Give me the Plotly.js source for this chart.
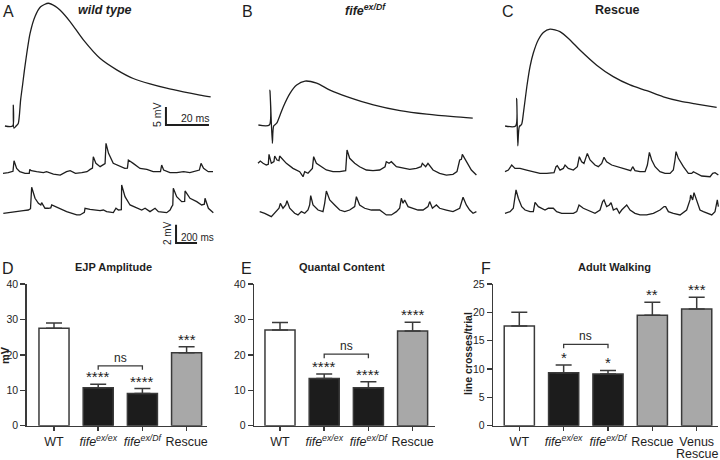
<!DOCTYPE html>
<html><head><meta charset="utf-8">
<script src="https://cdn.plot.ly/plotly-3.0.1.min.js"></script>
<style>html,body{margin:0;padding:0;background:#fff}#chart{width:720px;height:460px}</style>
</head><body><div id="chart"></div>
<script>
// ---------------- DATA ----------------
// Evoked EJP traces (time in ms from stimulus, voltage in mV above baseline)
const ejpWT_t = [-3.9,-0.3,0,0.3,1.3,2.3,3.4,4.4,5.4,7.8,10.1,12.7,16.3,19.4,21.7,26.4,32.6,40.3,48.1,55.8,63.6,71.3,79.1,86.8,91.8];
const ejpWT_v = [0,0,5.8,-0.6,0,0.7,7.2,11.8,16.5,25.7,30.4,33.1,34.1,33.3,32.2,29.0,23.9,18.8,15.6,13.2,11.7,10.5,9.5,8.6,8.1];
const ejpDf_t = [-5.4,-0.3,0,1.1,1.7,3.1,4.7,6.2,9.3,12.4,16.3,21.7,27.9,35.7,48.1,60.5,72.9,85.3,94.3];
const ejpDf_v = [0,0,9.7,-5.1,-0.3,0.5,2.8,5.1,8.8,11.1,12.2,11.6,9.7,7.9,5.6,4.0,3.0,2.3,1.9];
const ejpRes_t = [-5.4,-0.5,0,0.5,1.2,2.3,3.1,4.7,6.2,7.7,10.0,12.4,15.5,20.1,24.8,29.4,37.2,44.9,52.7,60.5,68.2,76.0,83.7,93.0];
const ejpRes_v = [0,0,7.7,-5.5,-0.2,0.5,3.5,10.9,16.5,20.2,23.9,26.0,26.9,26.2,23.9,21.1,16.9,13.7,11.4,9.8,8.1,6.9,6.1,5.2];

// Spontaneous mEJP recordings (time in ms, voltage in mV)
const miniWT1_t = [0,50,95,105,130,160,210,250,255,270,320,385,415,480,545,605,640,690,750,800,830,852,860,885,925,972,981,1005,1050,1115,1160,1185,1194,1240,1305,1370,1430,1500,1511,1530,1590,1655,1720,1780,1870,1886,1910,1955,2000];
const miniWT1_v = [-0.07,0,0.15,1.31,0.47,0.11,-0.07,-0.07,0.36,0.22,0.11,0,0.11,-0.15,-0.26,0.11,0.22,-0.07,0,0.11,0.36,0.5,1.75,1.02,0.66,1.0,3.21,2.11,1.02,0.66,0.47,0.5,1.38,1.02,0.47,0.36,0.11,0.11,0.84,0.29,0,0,0.11,0,0.29,1.02,0.47,0.11,0.11];
const miniWT2_t = [3,67,130,194,241,262,273,305,337,360,368,400,432,455,464,511,606,702,733,775,781,829,924,956,987,1051,1076,1099,1121,1127,1130,1162,1210,1273,1321,1353,1400,1448,1480,1559,1591,1607,1617,1622,1654,1702,1730,1734,1781,1845,1892,1918,1924,1956,2003];
const miniWT2_v = [0,0.07,0.18,0.29,0.36,0.5,2.84,1.64,1.09,0.9,1.17,0.55,0.55,0.6,0.91,0.66,0.18,-0.18,-0.18,0.1,0.55,0.44,0.29,0.36,0.18,0.07,0.55,0.36,0.36,0.4,3.10,1.82,0.91,0.55,0.36,0.55,0.18,0.55,0.18,0.07,0.36,0.73,0.9,2.73,1.82,1.28,1.3,2.44,1.64,1.28,0.91,1.0,1.64,0.55,0.07];
const miniDf1_t = [0,22,48,79,98,105,127,152,159,181,200,206,270,333,397,429,445,476,518,530,556,603,651,714,778,835,848,873,921,968,1032,1095,1159,1210,1222,1248,1270,1318,1381,1445,1508,1553,1565,1597,1619,1667,1730,1794,1857,1895,1921,1937,1946,1984,2032,2080];
const miniDf1_v = [0.73,0.98,0.73,0.55,0.62,1.71,0.73,0.91,1.53,1.09,1.02,1.53,0.73,0.18,-0.18,-0.73,-0.18,-0.36,0.18,1.46,0.73,0.36,0,-0.18,-0.18,-0.07,2.19,1.28,0.73,0.36,0,-0.07,0,0.36,0.91,0.73,0.91,0.36,0.18,0.07,0.18,0.36,0.73,0.36,0.73,0,-0.36,-0.55,-0.47,-0.18,1.09,1.17,1.71,0.91,0,-0.55];
const miniDf2_t = [16,64,127,159,200,213,238,264,276,302,349,381,413,445,476,492,502,524,572,619,635,651,683,730,778,826,873,921,937,968,1016,1080,1159,1222,1270,1318,1349,1365,1381,1397,1429,1476,1524,1572,1619,1635,1661,1699,1730,1794,1857,1921,1937,1953,1984,2016,2048,2080];
const miniDf2_v = [0.18,0,-0.36,0,0.55,1.09,0.55,0.91,1.38,0.55,0,-0.18,0.18,0,0.36,0.91,1.93,0.91,0.36,0.18,1.09,2.44,1.46,0.91,0.36,0.18,0.36,0.73,1.82,0.91,0.55,0.36,0.36,-0.18,-0.18,0.18,0.55,1.64,1.09,1.46,0.73,0.55,0.36,0.36,0.73,1.28,0.55,0.91,0.55,0.36,0.18,0.55,1.09,1.75,0.91,0.36,0,0.18];
const miniRes1_t = [0,32,54,64,95,143,206,270,333,397,467,486,498,524,556,572,603,651,689,708,730,752,772,784,810,857,889,921,943,968,1016,1064,1111,1159,1197,1216,1238,1286,1334,1356,1375,1397,1429,1476,1524,1572,1603,1619,1629,1651,1699,1746,1778,1794,1826,1873,1953,1978,2000,2032];
const miniRes1_v = [0,0.18,0.55,0.73,0.36,0.36,0.18,0,-0.18,-0.18,-0.11,0.55,0.66,0.18,0.36,0.73,0.36,0.18,0.55,1.64,1.09,0.91,1.46,2.0,1.28,0.73,0.55,0.91,1.57,1.09,0.73,0.55,0.36,0.18,0.11,0.55,0.11,0,0,0.73,2.11,1.28,0.55,0,-0.18,-0.18,0.18,1.28,2.19,1.46,0.55,-0.18,-0.18,0,-0.18,-0.47,-0.55,-0.18,-0.11,-0.36];
const miniRes2_t = [0,48,79,95,105,127,159,191,238,270,286,318,349,381,413,460,492,540,587,651,683,705,746,810,857,905,930,943,968,994,1010,1032,1064,1089,1111,1159,1191,1238,1286,1349,1413,1476,1515,1530,1556,1603,1667,1730,1762,1768,1787,1800,1826,1857,1889,1937,1969,2000,2016,2022,2032];
const miniRes2_v = [0,0.18,0.55,1.82,2.55,1.64,0.73,0.36,0.18,0.18,1.20,0.73,0.55,0.36,0.55,0.55,0.18,0,0,0,0.18,0.91,0.55,0.18,0,0.36,1.28,1.46,0.73,0.91,1.17,0.36,0.55,0,0.36,0.91,0.36,0,-0.18,-0.18,0,0.36,0.73,0.73,0.18,0,-0.18,0.36,1.46,2.0,1.46,2.26,1.46,0.36,0.18,0,-0.18,0.18,1.09,1.46,0.73];

// Bar chart data
const groups4 = ['WT','fife ex/ex','fife ex/Df','Rescue'];
const groupLabels4 = ['WT','<i>fife</i><sup><i>ex/ex</i></sup>','<i>fife</i><sup><i>ex/Df</i></sup>','Rescue'];
const groups5 = ['WT','fife ex/ex','fife ex/Df','Rescue','Venus Rescue'];
const groupLabels5 = ['WT','<i>fife</i><sup><i>ex/ex</i></sup>','<i>fife</i><sup><i>ex/Df</i></sup>','Rescue','Venus'];
const groupLabel5SecondLine = 'Rescue';   // second line of the "Venus Rescue" label
const ejpAmplitude = [27.5,10.7,9.1,20.6];
const ejpAmplitudeSEM = [1.5,1.0,1.4,1.7];
const ejpAmplitudeSig = ['','****','****','***'];
const quantalContent = [27.0,13.3,10.7,26.7];
const quantalContentSEM = [2.1,1.3,1.7,2.5];
const quantalContentSig = ['','****','****','****'];
const adultWalking = [17.6,9.35,9.1,19.5,20.6];
const adultWalkingSEM = [2.4,1.35,0.65,2.3,2.05];
const adultWalkingSig = ['','*','*','**','***'];
const nsLevels = [16.9, 20.2, 14.35];   // bracket level (data units) in D, E, F
const scaleEJP = {mV:5, ms:20};
const scaleMini = {mV:2, ms:200};

// ---------------- LAYOUT HELPERS ----------------
const W=720,H=460;
const FONT='"Liberation Sans", Arial, Helvetica, sans-serif';
const INK='#1e1e1e';
const AX='#3a3a3a';
const layout={width:W,height:H,margin:{l:0,r:0,t:0,b:0},paper_bgcolor:'#fff',plot_bgcolor:'rgba(0,0,0,0)',
  showlegend:false,font:{family:FONT,color:INK},annotations:[],shapes:[],hovermode:false};
const data=[];
const px=x=>x/W, py=y=>1-y/H;
let axN=3;
function hiddenPanel(pxL,pxR,pyT,pyB,x0,xppu,y0,yppu){
  axN++;
  layout['xaxis'+axN]={domain:[px(pxL),px(pxR)],range:[(pxL-x0)/xppu,(pxR-x0)/xppu],visible:false,fixedrange:true,anchor:'y'+axN};
  layout['yaxis'+axN]={domain:[py(pyB),py(pyT)],range:[(y0-pyB)/yppu,(y0-pyT)/yppu],visible:false,fixedrange:true,anchor:'x'+axN};
  return {x:'x'+axN,y:'y'+axN};
}
function line(ax,x,y,w,shape){
  data.push({type:'scatter',mode:'lines',x:x,y:y,xaxis:ax.x,yaxis:ax.y,
    line:{color:INK,width:w||1.2,shape:shape||'linear',smoothing:0.7},hoverinfo:'skip',cliponaxis:false});
}
function note(x,y,text,size,opts){
  layout.annotations.push(Object.assign({xref:'paper',yref:'paper',x:px(x),y:py(y),text:text,showarrow:false,
    font:{family:FONT,size:size,color:INK},xanchor:'center',yanchor:'middle'},opts||{}));
}

// ---------------- TRACE PANELS ----------------
const EJP_XPPU=2.15, EJP_YPPU=3.6, MINI_XPPU=0.105, MINI_YPPU=9.15;
const axA = hiddenPanel(0,228,0,140,13.3,EJP_XPPU,126,EJP_YPPU);
const axB = hiddenPanel(244,482,0,150,270,EJP_XPPU,125,EJP_YPPU);
const axC = hiddenPanel(490,720,0,150,516.7,EJP_XPPU,126,EJP_YPPU);
const axA1 = hiddenPanel(0,228,130,195,3,MINI_XPPU,172.7,MINI_YPPU);
const axA2 = hiddenPanel(0,228,170,250,3,MINI_XPPU,213.3,MINI_YPPU);
const axB1 = hiddenPanel(244,482,130,195,258,MINI_XPPU,170,MINI_YPPU);
const axB2 = hiddenPanel(244,482,170,250,258,MINI_XPPU,213.3,MINI_YPPU);
const axC1 = hiddenPanel(490,720,130,195,505,MINI_XPPU,171.7,MINI_YPPU);
const axC2 = hiddenPanel(490,720,170,250,505,MINI_XPPU,213.3,MINI_YPPU);

line(axA,ejpWT_t,ejpWT_v,1.3,'spline');
line(axB,ejpDf_t,ejpDf_v,1.3,'spline');
line(axC,ejpRes_t,ejpRes_v,1.3,'spline');
line(axA1,miniWT1_t,miniWT1_v,1.3);
line(axA2,miniWT2_t,miniWT2_v,1.3);
line(axB1,miniDf1_t,miniDf1_v,1.3);
line(axB2,miniDf2_t,miniDf2_v,1.3);
line(axC1,miniRes1_t,miniRes1_v,1.3);
line(axC2,miniRes2_t,miniRes2_v,1.3);

// scale bars (corner positions in each panel's own units)
const sbE={t:71,v:0.3}, sbM={t:1648,v:-3.25};
line(axA,[sbE.t,sbE.t,sbE.t+scaleEJP.ms],[sbE.v+scaleEJP.mV,sbE.v,sbE.v],2);
line(axA2,[sbM.t,sbM.t,sbM.t+scaleMini.ms],[sbM.v+scaleMini.mV,sbM.v,sbM.v],2);
note(157,115,'5 mV',10.5,{textangle:-90});
note(195,118,'20 ms',10.5);
note(168,233,'2 mV',10,{textangle:-90});
note(197.5,237,'200 ms',10);

// panel headings
note(8,12,'A',16); note(247,12,'B',16); note(508,12,'C',16);
note(104.5,10,'<b><i>wild type</i></b>',12.5);
note(365,10,'<b><i>fife</i></b><sup><b><i>ex/Df</i></b></sup>',12.5);
note(617,10,'<b>Rescue</b>',12.5);
note(8,268,'D',16); note(246,268,'E',16); note(486,268,'F',16);
note(113,267,'<b>EJP Amplitude</b>',11);
note(342,267,'<b>Quantal Content</b>',11);
note(614,267,'<b>Adult Walking</b>',11);
note(5,355,'<b>mV</b>',11,{textangle:-90});
note(468,354,'<b>line crosses/trial</b>',10.5,{textangle:-90});

// ---------------- BAR PANELS ----------------
function barPanel(k,pxL,pxR,c0,spacing,cats,labels,vals,sem,sig,ymax,dtick,nsLevel){
  const xs = k===1?'':String(k);
  const xa='xaxis'+xs, ya='yaxis'+xs;
  const yTop=284, yBot=425.7, ppu=(yBot-yTop)/ymax;
  layout[xa]={domain:[px(pxL),px(pxR)],type:'category',range:[(pxL-c0)/spacing,(pxR-c0)/spacing],
    showline:true,linecolor:AX,linewidth:1.5,ticks:'outside',ticklen:4,tickwidth:1.5,tickcolor:AX,
    tickvals:cats,ticktext:labels,tickfont:{size:12.5,color:INK,family:FONT},showgrid:false,zeroline:false,fixedrange:true,anchor:'y'+xs};
  layout[ya]={domain:[py(yBot),py(yTop)],range:[0,ymax],dtick:dtick,showline:true,linecolor:AX,linewidth:1.5,
    ticks:'outside',ticklen:5,tickwidth:1.5,tickcolor:AX,tickfont:{size:10.5,color:INK,family:FONT},
    showgrid:false,zeroline:false,fixedrange:true,anchor:'x'+xs};
  const colors=cats.map((c,i)=> i===0?'#ffffff':(i<3?'#1c1c1c':'#a8a8a8'));
  data.push({type:'bar',x:cats,y:vals,xaxis:'x'+xs,yaxis:'y'+xs,width:0.68,
    marker:{color:colors,line:{color:AX,width:1.5}},
    error_y:{type:'data',array:sem,arrayminus:sem.map(()=>0),symmetric:false,color:AX,thickness:1.5,width:8},hoverinfo:'skip'});
  sig.forEach((s,i)=>{ if(!s) return;
    layout.annotations.push({xref:'x'+xs,yref:'y'+xs,x:cats[i],y:vals[i]+sem[i],text:s,showarrow:false,yanchor:'bottom',
      yshift:-3,font:{family:FONT,size:15,color:INK}});
  });
  const drop=4/ppu;
  data.push({type:'scatter',mode:'lines',x:[cats[1],cats[1],cats[2],cats[2]],y:[nsLevel-drop,nsLevel,nsLevel,nsLevel-drop],
    xaxis:'x'+xs,yaxis:'y'+xs,line:{color:AX,width:1.3},hoverinfo:'skip',cliponaxis:false});
  layout.annotations.push({xref:'x'+xs,yref:'y'+xs,x:1.5,y:nsLevel,text:'ns',showarrow:false,yanchor:'bottom',yshift:-1,
    font:{family:FONT,size:12,color:INK}});
}
barPanel(1,26.7,206.7,54,44.2,groups4,groupLabels4,ejpAmplitude,ejpAmplitudeSEM,ejpAmplitudeSig,40,10,nsLevels[0]);
barPanel(2,254.3,435,280,44.2,groups4,groupLabels4,quantalContent,quantalContentSEM,quantalContentSig,40,10,nsLevels[1]);
barPanel(3,493.3,718,519.3,44.35,groups5,groupLabels5,adultWalking,adultWalkingSEM,adultWalkingSig,25,5,nsLevels[2]);
// second line of the last F category label, placed just under its tick label
layout.annotations.push({xref:'x3',yref:'paper',x:groups5[4],y:py(453.5),text:groupLabel5SecondLine,showarrow:false,
  yanchor:'middle',font:{family:FONT,size:12.5,color:INK}});

Plotly.newPlot('chart',data,layout,{staticPlot:true,displayModeBar:false});
</script></body></html>
